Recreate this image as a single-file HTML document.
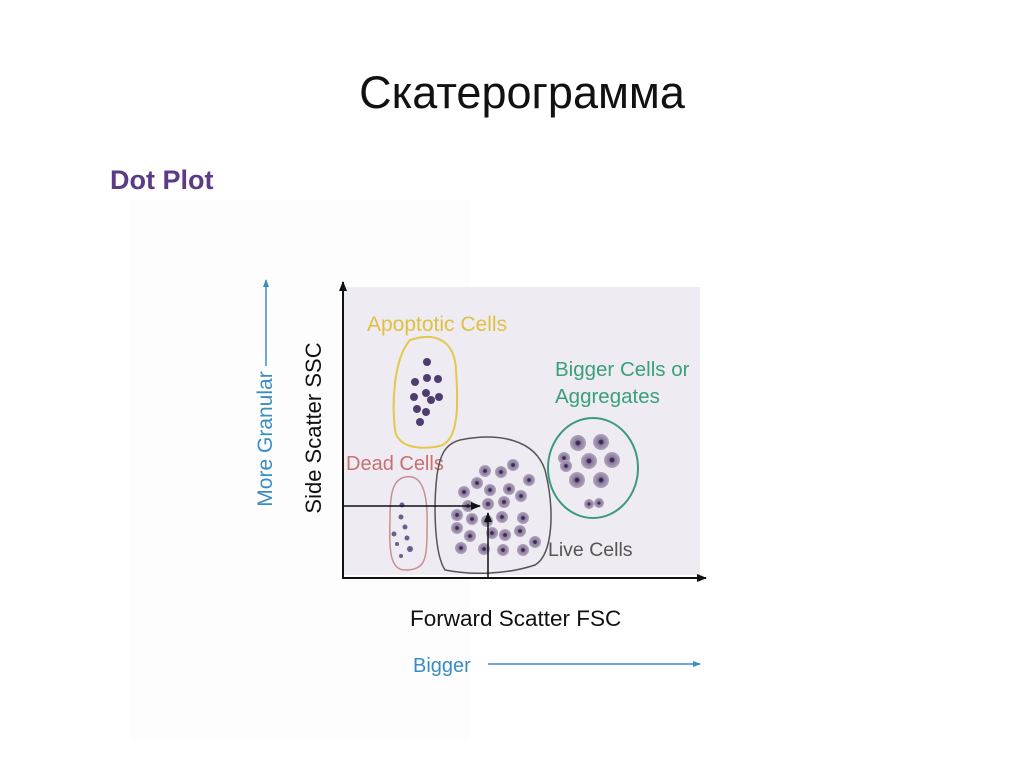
<!DOCTYPE html>
<html><head><meta charset="utf-8"><style>
body{margin:0;background:#fff;}
svg{display:block;}
</style></head><body>
<svg width="1024" height="767" viewBox="0 0 1024 767" xmlns="http://www.w3.org/2000/svg" font-family="Liberation Sans, DejaVu Sans, sans-serif">
<defs>
<marker id="ak" markerWidth="10" markerHeight="8" refX="9" refY="4" orient="auto" markerUnits="userSpaceOnUse"><path d="M0,0 L10,4 L0,8 z" fill="#111"/></marker>
<marker id="ab" markerWidth="8" markerHeight="6" refX="7" refY="3" orient="auto" markerUnits="userSpaceOnUse"><path d="M0,0 L8,3 L0,6 z" fill="#3a8dc0"/></marker>
<radialGradient id="cell"><stop offset="0" stop-color="#2a1f4a"/><stop offset="0.3" stop-color="#4a3a70"/><stop offset="0.35" stop-color="#8a7a98"/><stop offset="1" stop-color="#b0a4bc"/></radialGradient>
</defs>
<rect x="130" y="200" width="340" height="540" fill="#fdfdfd"/>
<text x="522" y="108" font-size="45" text-anchor="middle" fill="#111">Скатерограмма</text>
<text x="110" y="189" font-size="27" font-weight="bold" fill="#5b3a86">Dot Plot</text>
<rect x="344" y="287" width="356" height="288" fill="#efebf3"/>
<line x1="343" y1="579" x2="343" y2="282" stroke="#111" stroke-width="2" marker-end="url(#ak)"/>
<line x1="343" y1="578" x2="706" y2="578" stroke="#111" stroke-width="2" marker-end="url(#ak)"/>
<text transform="translate(321,428) rotate(-90)" font-size="22" text-anchor="middle" fill="#111">Side Scatter SSC</text>
<text transform="translate(272,439) rotate(-90)" font-size="21" text-anchor="middle" fill="#3a8dc0">More Granular</text>
<line x1="266" y1="366" x2="266" y2="280" stroke="#3a8dc0" stroke-width="1.5" marker-end="url(#ab)"/>
<text x="410" y="626" font-size="22.5" fill="#111">Forward Scatter FSC</text>
<text x="413" y="672" font-size="20" fill="#3a8dc0">Bigger</text>
<line x1="488" y1="664" x2="700" y2="664" stroke="#3a8dc0" stroke-width="1.5" marker-end="url(#ab)"/>
<text x="367" y="331" font-size="21" fill="#e0c040">Apoptotic Cells</text>
<path d="M410,340 C440,330 455,345 456,370 C458,400 460,440 440,446 C420,450 398,448 395,430 C392,405 393,360 410,340 Z" fill="none" stroke="#e3c84a" stroke-width="2"/>
<g fill="#4e3d6e">
<circle cx="427" cy="362" r="4"/><circle cx="427" cy="378" r="4"/><circle cx="438" cy="379" r="4"/><circle cx="415" cy="382" r="4"/><circle cx="414" cy="397" r="4"/><circle cx="426" cy="393" r="4"/><circle cx="431" cy="400" r="4"/><circle cx="439" cy="397" r="4"/><circle cx="417" cy="409" r="4"/><circle cx="426" cy="412" r="4"/><circle cx="420" cy="422" r="4"/>
</g>
<text x="346" y="470" font-size="20" fill="#c87070">Dead Cells</text>
<path d="M405,477 C425,473 428,500 427,530 C427,560 425,570 405,570 C390,570 389,550 390,520 C390,495 392,480 405,477 Z" fill="none" stroke="#c89090" stroke-width="1.5"/>
<g fill="#6d5c8c">
<circle cx="402" cy="505" r="2.5"/><circle cx="401" cy="517" r="2.5"/><circle cx="405" cy="527" r="2.5"/><circle cx="394" cy="534" r="2.5"/><circle cx="407" cy="538" r="2.5"/><circle cx="397" cy="544" r="2"/><circle cx="410" cy="549" r="3"/><circle cx="401" cy="556" r="2"/>
</g>
<text x="555" y="376" font-size="20.5" fill="#3aa078">Bigger Cells or</text>
<text x="555" y="403" font-size="20.5" fill="#3aa078">Aggregates</text>
<ellipse cx="593" cy="468" rx="45" ry="50" fill="none" stroke="#3a9a80" stroke-width="2"/>
<g fill="url(#cell)">
<circle cx="578" cy="443" r="8"/><circle cx="601" cy="442" r="8"/><circle cx="589" cy="461" r="8"/><circle cx="612" cy="460" r="8"/><circle cx="564" cy="458" r="6"/><circle cx="566" cy="466" r="6"/><circle cx="577" cy="480" r="8"/><circle cx="601" cy="480" r="8"/><circle cx="589" cy="504" r="5"/><circle cx="599" cy="503" r="5"/>
</g>
<path d="M460,440 C500,432 535,440 545,470 C555,510 553,555 535,565 C505,575 470,575 445,570 C435,555 433,510 437,475 C440,455 445,444 460,440 Z" fill="none" stroke="#555" stroke-width="1.5"/>
<g fill="url(#cell)">
<circle cx="513" cy="465" r="6"/><circle cx="485" cy="471" r="6"/><circle cx="501" cy="472" r="6"/><circle cx="477" cy="483" r="6"/><circle cx="490" cy="490" r="6"/><circle cx="529" cy="480" r="6"/><circle cx="464" cy="492" r="6"/><circle cx="509" cy="489" r="6"/><circle cx="521" cy="496" r="6"/><circle cx="468" cy="506" r="6"/><circle cx="488" cy="504" r="6"/><circle cx="504" cy="502" r="6"/><circle cx="457" cy="515" r="6"/><circle cx="472" cy="519" r="6"/><circle cx="502" cy="517" r="6"/><circle cx="523" cy="518" r="6"/><circle cx="457" cy="528" r="6"/><circle cx="470" cy="536" r="6"/><circle cx="492" cy="533" r="6"/><circle cx="505" cy="535" r="6"/><circle cx="520" cy="531" r="6"/><circle cx="461" cy="548" r="6"/><circle cx="484" cy="549" r="6"/><circle cx="503" cy="550" r="6"/><circle cx="523" cy="550" r="6"/><circle cx="535" cy="542" r="6"/><circle cx="487" cy="521" r="6"/>
</g>
<text x="548" y="556" font-size="19.5" fill="#555">Live Cells</text>
<line x1="344" y1="506" x2="480" y2="506" stroke="#111" stroke-width="1.5" marker-end="url(#ak)"/>
<line x1="488" y1="578" x2="488" y2="513" stroke="#111" stroke-width="1.5" marker-end="url(#ak)"/>
</svg>
</body></html>
